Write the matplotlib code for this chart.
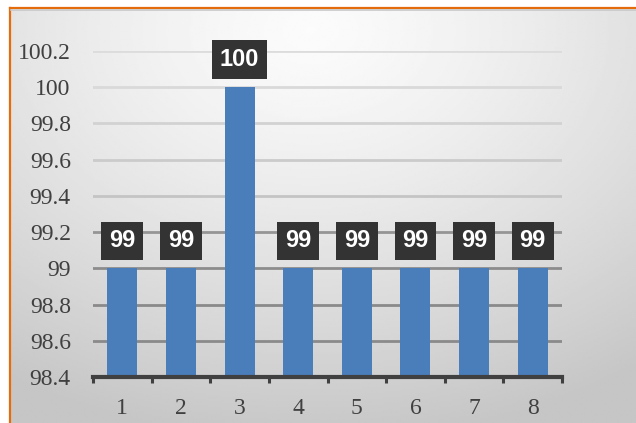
import numpy as np
import matplotlib
matplotlib.use('Agg')
import matplotlib.pyplot as plt
from matplotlib.lines import Line2D

# data
categories = [1, 2, 3, 4, 5, 6, 7, 8]
values = [99, 99, 100, 99, 99, 99, 99, 99]
yTicks = [98.4, 98.6, 98.8, 99.0, 99.2, 99.4, 99.6, 99.8, 100.0, 100.2]
yTickLabels = ['98.4', '98.6', '98.8', '99', '99.2', '99.4', '99.6', '99.8', '100', '100.2']

# grid colours (darker at bottom, like the original)
gridColors = ['#8a8a8a', '#8a8a8a', '#8c8c8c', '#959595', '#c4c4c4',
              '#cbcbcb', '#d2d2d2', '#d9d9d9', '#dcdcdc']

W, H = 636, 423
fig = plt.figure(figsize=(W/100., H/100.), dpi=100)
fig.patch.set_facecolor('white')

# gradient background inside the orange frame
bg = fig.add_axes([11./W, 0, 1 - 11./W, (H - 10.)/H])
ny, nx = 200, 300
yy, xx = np.mgrid[0:1:ny*1j, 0:1:nx*1j]
dist = np.sqrt(((xx - 0.48)*1.1)**2 + ((yy - 0.05)*1.0)**2)
shade = 0.985 - 0.21*np.clip(dist, 0, 1)**1.3
bg.imshow(shade, cmap='gray', vmin=0, vmax=1, aspect='auto',
          extent=[0, 1, 1, 0], interpolation='bilinear')
bg.set_axis_off()

# orange frame lines
fig.add_artist(Line2D([10./W, 10./W], [0, 1 - 8./H], color='#e46c0a', lw=1.6))
fig.add_artist(Line2D([10./W, 1], [1 - 8./H, 1 - 8./H], color='#e46c0a', lw=1.6))
fig.add_artist(Line2D([11./W, 1], [1 - 10.5/H, 1 - 10.5/H], color='#c8c8c8', lw=1.2))

ax = fig.add_axes([93./W, (H - 377.)/H, (562. - 93.)/W, (377. - 51.)/H])
ax.patch.set_alpha(0)

for yv, c in zip(yTicks[1:], gridColors):
    ax.axhline(yv, color=c, lw=2.0, zorder=1)

ax.bar(categories, [v - 98.4 for v in values], bottom=98.4, width=0.51,
       color='#4a7ebb', zorder=2)

for x, v in zip(categories, values):
    ax.annotate('%d' % v, (x, v), xytext=(0, 19.8), textcoords='offset points',
                ha='center', va='center', color='white', fontsize=17,
                fontweight='bold', family='Liberation Sans', zorder=4,
                bbox=dict(boxstyle='square,pad=0.33', fc='#333333', ec='none'))

ax.set_xlim(0.5, 8.5)
ax.set_ylim(98.4, 100.2)
ax.set_yticks(yTicks)
ax.set_yticklabels(yTickLabels)
ax.set_xticks(categories)
ax.set_xticks(np.arange(0.5, 9.0, 1.0), minor=True)
ax.tick_params(axis='y', length=0, pad=16, labelsize=17, labelcolor='#404040')
ax.tick_params(axis='x', which='major', length=0, pad=15, labelsize=17, labelcolor='#404040')
ax.tick_params(axis='x', which='minor', length=4, width=2.2, color='#404040', direction='out')
for lab in ax.get_yticklabels() + ax.get_xticklabels():
    lab.set_family('Liberation Serif')

for s in ['left', 'right', 'top']:
    ax.spines[s].set_visible(False)
ax.spines['bottom'].set_color('#404040')
ax.spines['bottom'].set_linewidth(3.0)
ax.spines['bottom'].set_zorder(3)

plt.savefig('out.png', dpi=100)
